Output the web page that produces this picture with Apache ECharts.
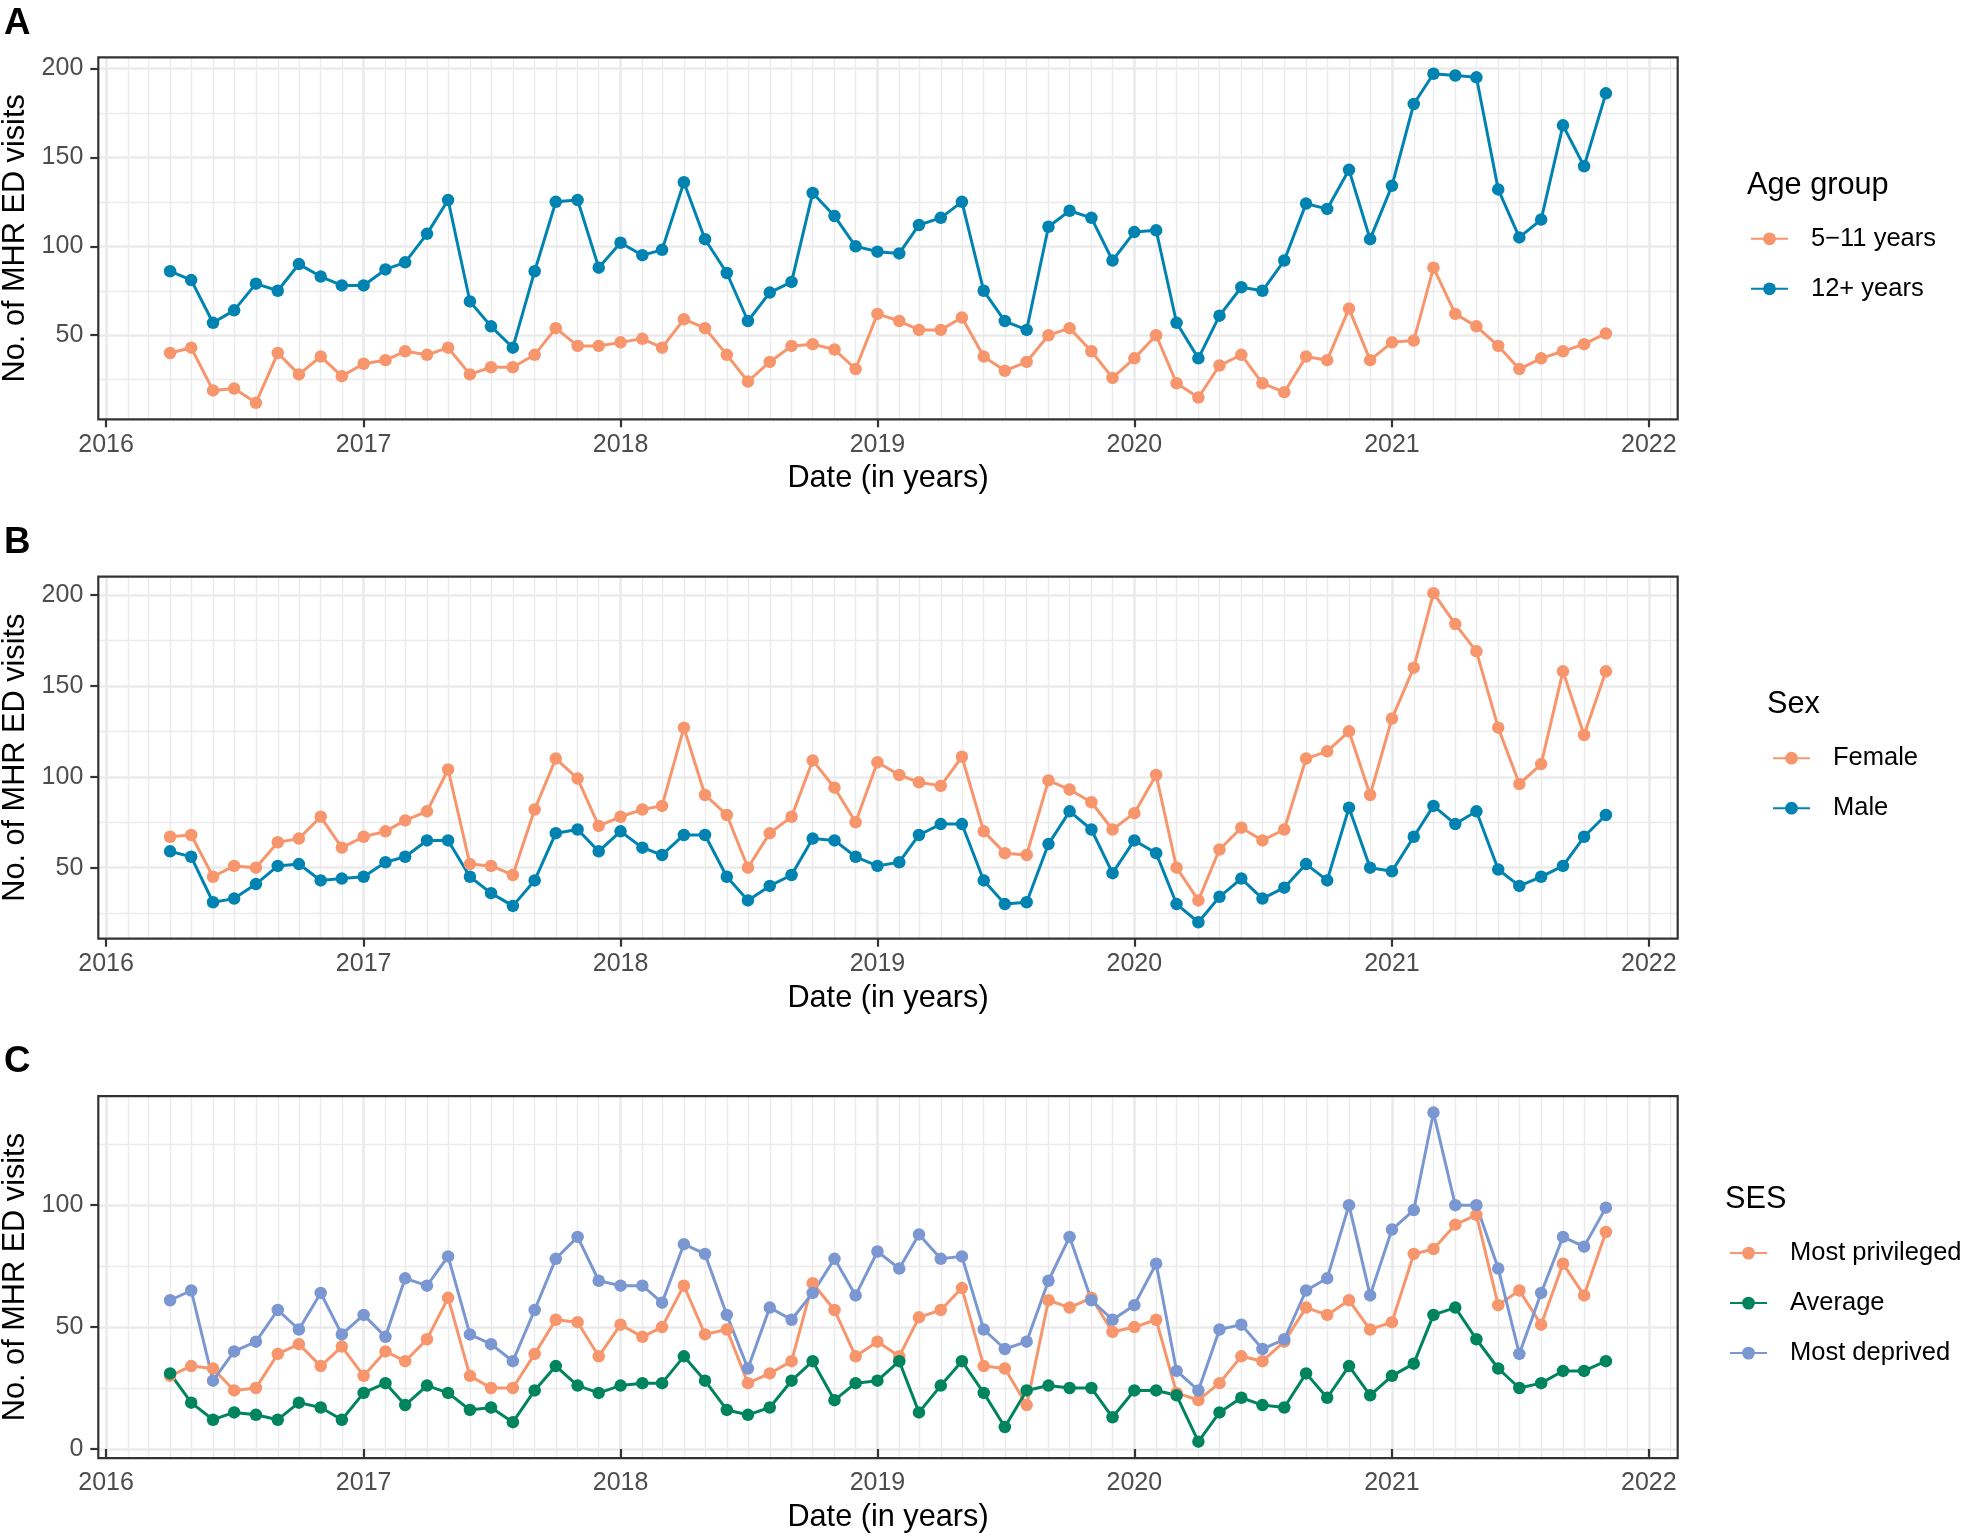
<!DOCTYPE html>
<html><head><meta charset="utf-8">
<script src="https://cdn.jsdelivr.net/npm/echarts@6/dist/echarts.min.js"></script>
<style>html,body{margin:0;padding:0;background:#fff}#c{width:1961px;height:1537px}</style>
</head><body><div id="c"></div>
<script>
// ---- data ----
const months = [
 '2016-04','2016-05','2016-06','2016-07','2016-08','2016-09','2016-10','2016-11','2016-12',
 '2017-01','2017-02','2017-03','2017-04','2017-05','2017-06','2017-07','2017-08','2017-09','2017-10','2017-11','2017-12',
 '2018-01','2018-02','2018-03','2018-04','2018-05','2018-06','2018-07','2018-08','2018-09','2018-10','2018-11','2018-12',
 '2019-01','2019-02','2019-03','2019-04','2019-05','2019-06','2019-07','2019-08','2019-09','2019-10','2019-11','2019-12',
 '2020-01','2020-02','2020-03','2020-04','2020-05','2020-06','2020-07','2020-08','2020-09','2020-10','2020-11','2020-12',
 '2021-01','2021-02','2021-03','2021-04','2021-05','2021-06','2021-07','2021-08','2021-09','2021-10','2021-11'];
const age5to11 = [40,43,19,20,12,40,28,38,27, 34,36,41,39,43,28,32,32,39,54,44,44, 46,48,43,59,54,39,24,35,44,45,42,31, 62,58,53,53,60,38,30,35,50,54,41,26, 37,50,23,15,33,39,23,18,38,36,65,36, 46,47,88,62,55,44,31,37,41,45,51];
const age12plus = [86,81,57,64,79,75,90,83,78, 78,87,91,107,126,69,55,43,86,125,126,88, 102,95,98,136,104,85,58,74,80,130,117,100, 97,96,112,116,125,75,58,53,111,120,116,92, 108,109,57,37,61,77,75,92,124,121,143,104, 134,180,197,196,195,132,105,115,168,145,186];
const female = [67,68,45,51,50,64,66,78,61, 67,70,76,81,104,52,51,46,82,110,99,73, 78,82,84,127,90,79,50,69,78,109,94,75, 108,101,97,95,111,70,58,57,98,93,86,71, 80,101,50,32,60,72,65,71,110,114,125,90, 132,160,201,184,169,127,96,107,158,123,158];
const male = [59,56,31,33,41,51,52,43,44, 45,53,56,65,65,45,36,29,43,69,71,59, 70,61,57,68,68,45,32,40,46,66,65,56, 51,53,68,74,74,43,30,31,63,81,71,47, 65,58,30,20,34,44,33,39,52,43,83,50, 48,67,84,74,81,49,40,45,51,67,79];
const sesPrivileged = [30,34,33,24,25,39,43,34,42, 30,40,36,45,62,30,25,25,39,53,52,38, 51,46,50,67,47,49,27,31,36,68,57,38, 44,38,54,57,66,34,33,18,61,58,62,48, 50,53,23,20,27,38,36,44,58,55,61,49, 52,80,82,92,96,59,65,51,76,63,89];
const sesAverage = [31,19,12,15,14,12,19,17,12, 23,27,18,26,23,16,17,11,24,34,26,23, 26,27,27,38,28,16,14,17,28,36,20,27, 28,36,15,26,36,23,9,24,26,25,25,13, 24,24,22,3,15,21,18,17,31,21,34,22, 30,35,55,58,45,33,25,27,32,32,36];
const sesDeprived = [61,65,28,40,44,57,49,64,47, 55,46,70,67,79,47,43,36,57,78,87,69, 67,67,60,84,80,55,33,58,53,64,78,63, 81,74,88,78,79,49,41,44,69,87,61,53, 59,76,32,24,49,51,41,45,65,70,100,63, 90,98,138,100,100,74,39,64,87,83,99];
const yearTicks = ['2016-01','2017-01','2018-01','2019-01','2020-01','2021-01','2022-01'];
const yTicks = [0,50,100,150,200];
const yMinorTicks = [25,75,125,175];

// ---- helpers ----
const ts = s => { const p = s.split('-').map(Number); return new Date(p[0], p[1]-1, p[2]||1).getTime(); };
const X = months.map(ts);
const FONT = 'Liberation Sans, Arial, Helvetica, sans-serif';
const span = X[X.length-1] - X[0];
const xMin = X[0] - 0.05*span, xMax = X[X.length-1] + 0.05*span;
const monthGrid = [];
for (let y = 2015; y <= 2022; y++) for (let m = 0; m < 12; m++) {
  const t = new Date(y, m, 1).getTime(); if (t >= xMin && t <= xMax) monthGrid.push(t);
}
function yr(arrs){ let lo=Infinity, hi=-Infinity; arrs.forEach(a=>a.forEach(v=>{lo=Math.min(lo,v);hi=Math.max(hi,v);})); const r=hi-lo; return [lo-0.05*r, hi+0.05*r]; }

const panels = [
  {tag:'A', legendTitle:'Age group', series:[['5\u221211 years', age5to11, '#F7966C'], ['12+ years', age12plus, '#0083B1']], legendLeft:1750, titleLeft:1747},
  {tag:'B', legendTitle:'Sex', series:[['Female', female, '#F7966C'], ['Male', male, '#0083B1']], legendLeft:1772, titleLeft:1767},
  {tag:'C', legendTitle:'SES', series:[['Most privileged', sesPrivileged, '#F7966C'], ['Average', sesAverage, '#00845E'], ['Most deprived', sesDeprived, '#7A97D2']], legendLeft:1729, titleLeft:1725}
];
const TOP0 = 57.3, STEP = 519.4, H = 362, LEFT = 98.3, W = 1579.4;

const grid=[], xAxis=[], yAxis=[], series=[], legend=[], title=[];
panels.forEach((p, i) => {
  const top = TOP0 + i*STEP;
  grid.push({left: LEFT, top: top, width: W, height: H, show: true, backgroundColor: 'transparent', borderColor: '#333333', borderWidth: 2.2, z: 5, containLabel:false, outerBoundsMode:'none'});
  const [ymin, ymax] = yr(p.series.map(s => s[1]));
  xAxis.push({type:'value', gridIndex:i, min:xMin, max:xMax, position:'bottom',
    axisLine:{show:false},
    axisTick:{show:true, customValues: yearTicks.map(ts), length:8, lineStyle:{color:'#333333', width:2.2}},
    axisLabel:{customValues: yearTicks.map(ts), formatter: v => String(new Date(v).getFullYear()), color:'#4D4D4D', fontSize:25, fontFamily:FONT, margin:13},
    splitLine:{show:true, lineStyle:{color:'#EBEBEB', width:2.6}},
    name:'Date (in years)', nameLocation:'middle', nameGap:44, nameTextStyle:{color:'#000', fontSize:30.7, fontFamily:FONT}});
  yAxis.push({type:'value', gridIndex:i, min:ymin, max:ymax, position:'left', minInterval:50, maxInterval:50,
    axisLine:{show:false},
    axisTick:{show:true, customValues: yTicks, length:8, lineStyle:{color:'#333333', width:2.2}},
    axisLabel:{customValues: yTicks, color:'#4D4D4D', fontSize:25, fontFamily:FONT, margin:15},
    splitLine:{show:true, lineStyle:{color:'#EBEBEB', width:2.6}},
    name:'No. of MHR ED visits', nameLocation:'middle', nameGap:62, nameRotate:90, nameTextStyle:{color:'#000', fontSize:30.7, fontFamily:FONT}});
  title.push({text:p.tag, left:4, top:5 + i*STEP, padding:0, textStyle:{fontSize:36.7, fontWeight:'bold', color:'#000', fontFamily:FONT}});
  const n = p.series.length;
  const center = top + H/2;
  const itemStep = 49;
  const firstCenter = center - (n-1)*itemStep/2 + 24.5;
  title.push({text:p.legendTitle, left:p.titleLeft, top: firstCenter - 53 - 15.4, padding:0, textStyle:{fontSize:30.7, fontWeight:'normal', color:'#000', fontFamily:FONT}});
  legend.push({orient:'vertical', left:p.legendLeft, top:firstCenter - 12.5, itemWidth:37, itemHeight:16, itemGap:itemStep-25, padding:0,
    data:p.series.map(s=>s[0]), textStyle:{fontSize:25.5, color:'#000', fontFamily:FONT, padding:[0,0,0,18]}});
  p.series.forEach(s => {
    series.push({type:'line', name:s[0], xAxisIndex:i, yAxisIndex:i, data:X.map((t,k)=>[t, s[1][k]]),
      symbol:'circle', symbolSize:12.5, showSymbol:true, lineStyle:{width:3, color:s[2]}, itemStyle:{color:s[2]}, z:3});
  });
});
panels.forEach((p, i) => {
  xAxis.push({type:'value', gridIndex:i, min:xMin, max:xMax, position:'top',
    axisLine:{show:false}, axisTick:{show:false, customValues: monthGrid}, axisLabel:{show:false},
    splitLine:{show:true, lineStyle:{color:'#EBEBEB', width:1.4}}});
  const [ymin, ymax] = yr(p.series.map(s => s[1]));
  yAxis.push({type:'value', gridIndex:i, min:ymin, max:ymax, position:'right',
    axisLine:{show:false}, axisTick:{show:false, customValues: yMinorTicks}, axisLabel:{show:false},
    splitLine:{show:true, lineStyle:{color:'#EBEBEB', width:1.4}}});
});

const chart = echarts.init(document.getElementById('c'));
chart.setOption({animation:false, backgroundColor:'#fff', textStyle:{fontFamily:FONT}, grid, xAxis, yAxis, series, legend, title});
</script></body></html>
